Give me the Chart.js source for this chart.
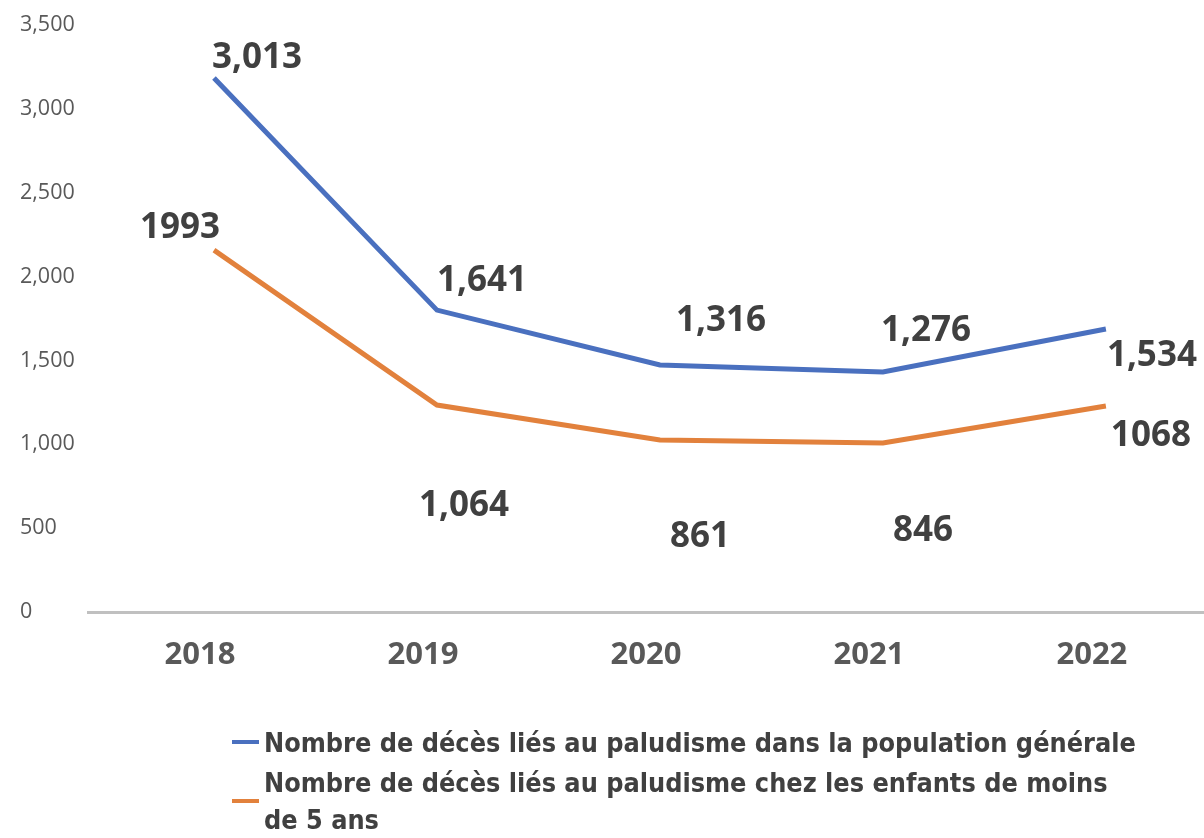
<!DOCTYPE html>
<html>
<head>
<meta charset="utf-8">
<script src="https://cdn.jsdelivr.net/npm/chart.js@4"></script>
<style>
  html, body { margin: 0; padding: 0; background: #fff; }
  #wrap { width: 1204px; height: 838px; position: relative; }
</style>
</head>
<body>
<div id="wrap"><canvas id="myChart" width="1204" height="838"></canvas></div>
<script>
// data
const years = ['2018', '2019', '2020', '2021', '2022'];
const decesGeneral = [3184, 1800, 1473, 1431, 1687];
const decesEnfants = [2158, 1234, 1026, 1008, 1228];
// printed labels (as written on the chart)
const labelsGeneral = ['3,013', '1,641', '1,316', '1,276', '1,534'];
const labelsEnfants = ['1993', '1,064', '861', '846', '1068'];
const yTicks = [0, 500, 1000, 1500, 2000, 2500, 3000, 3500];
const seriesNames = [
  'Nombre de décès liés au paludisme dans la population générale',
  'Nombre de décès liés au paludisme chez les enfants de moins de 5 ans'
];

// label offsets from each point (dx, dy to text centre)
const offsGeneral = [[43, -20], [45, -29], [61, -44], [43, -41], [46, 27]];
const offsEnfants = [[-34, -22], [27, 101], [40, 97], [40, 88], [45, 30]];

const pointLabels = {
  id: 'pointLabels',
  afterDatasetsDraw(chart) {
    const c = chart.ctx;
    c.save();
    c.font = 'bold 35px "Open Sans"';
    c.fillStyle = '#404040';
    c.textAlign = 'center';
    c.textBaseline = 'middle';
    [[labelsGeneral, offsGeneral], [labelsEnfants, offsEnfants]].forEach(function (s, di) {
      const meta = chart.getDatasetMeta(di);
      meta.data.forEach(function (pt, i) {
        c.fillText(s[0][i], pt.x + s[1][i][0], pt.y + s[1][i][1]);
      });
    });
    c.restore();
  }
};

// legend, wrapping like the original
const legendBox = {
  id: 'legendBox',
  afterDraw(chart) {
    const c = chart.ctx;
    c.save();
    c.font = 'bold 28px "DejaVu Sans Condensed", "DejaVu Sans"';
    const w = c.measureText(seriesNames[0]).width;
    const fs = 28 * 872 / w;
    c.font = 'bold ' + fs.toFixed(2) + 'px "DejaVu Sans Condensed", "DejaVu Sans"';
    c.fillStyle = '#404040';
    c.textBaseline = 'middle';
    c.textAlign = 'left';
    const tx = 264;
    // first entry
    c.fillStyle = chart.data.datasets[0].borderColor;
    c.fillRect(232, 740, 27, 4);
    c.fillStyle = '#404040';
    c.fillText(seriesNames[0], tx, 745);
    // second entry, two lines
    c.fillStyle = chart.data.datasets[1].borderColor;
    c.fillRect(232, 799, 27, 4);
    c.fillStyle = '#404040';
    const words = seriesNames[1].split(' ');
    const line1 = words.slice(0, words.length - 3).join(' ');
    const line2 = words.slice(words.length - 3).join(' ');
    c.fillText(line1, tx, 785);
    c.fillText(line2, tx, 822);
    c.restore();
  }
};

const ctx = document.getElementById('myChart');

new Chart(ctx, {
  type: 'line',
  data: {
    datasets: [{
      label: seriesNames[0],
      data: decesGeneral.map((v, i) => ({ x: i, y: v })),
      borderColor: '#4a70bf',
      borderWidth: 5,
      pointRadius: 0,
      tension: 0
    }, {
      label: seriesNames[1],
      data: decesEnfants.map((v, i) => ({ x: i, y: v })),
      borderColor: '#e2813c',
      borderWidth: 5,
      pointRadius: 0,
      tension: 0
    }]
  },
  options: {
    responsive: false,
    animation: false,
    layout: { padding: { left: 20, top: 25, right: 0, bottom: 0 } },
    plugins: {
      legend: { display: false },
      tooltip: { enabled: false }
    },
    scales: {
      x: {
        type: 'linear',
        min: -0.565,
        max: 4.44,
        afterBuildTicks: function (scale) {
          scale.ticks = years.map((y, i) => ({ value: i }));
        },
        afterFit: function (scale) { scale.height = 226; },
        grid: { display: false },
        border: { display: true, color: '#c0c0c0', width: 3 },
        ticks: {
          callback: function (v) { return years[v]; },
          labelOffset: -14,
          padding: 17,
          color: '#595959',
          font: { family: 'Open Sans', size: 31, weight: 'bold' },
          maxRotation: 0,
          autoSkip: false
        }
      },
      y: {
        min: 0,
        max: 3500,
        afterBuildTicks: function (scale) {
          scale.ticks = yTicks.map(v => ({ value: v }));
        },
        afterFit: function (scale) { scale.width = 68; },
        grid: { display: false },
        border: { display: false },
        ticks: {
          crossAlign: 'far',
          color: '#595959',
          font: { family: 'Open Sans', size: 21.5 },
          callback: function (v) { return v.toLocaleString('en-US'); }
        }
      }
    }
  },
  plugins: [pointLabels, legendBox]
});
</script>
</body>
</html>
